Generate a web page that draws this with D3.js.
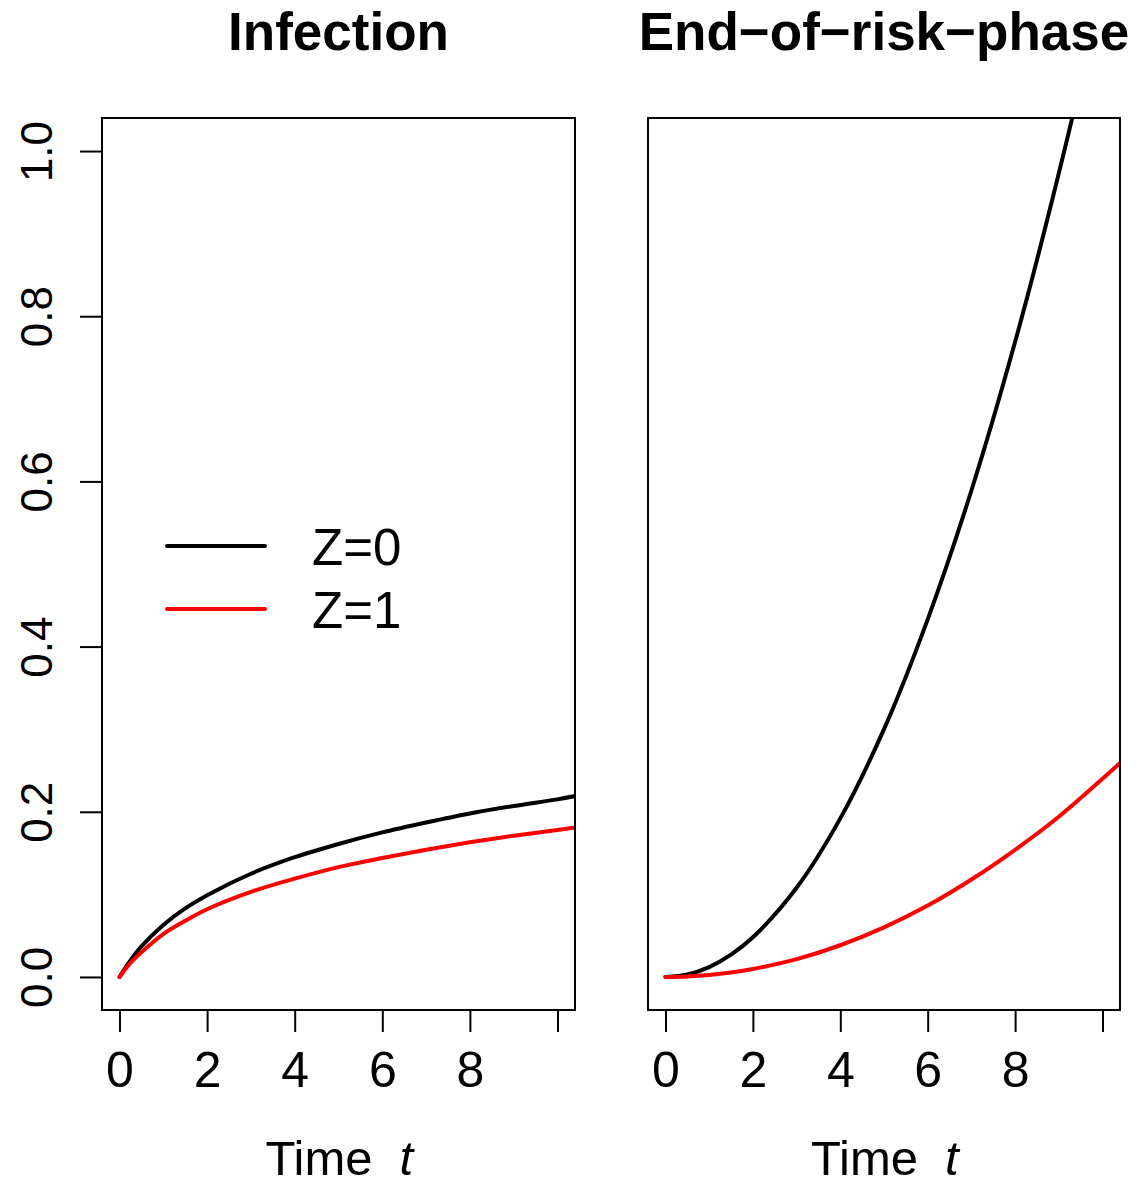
<!DOCTYPE html>
<html>
<head>
<meta charset="utf-8">
<script src="https://cdn.jsdelivr.net/npm/d3@7"></script>
<style>
	body { margin: 0; background: #fff; }
	svg { display: block; font-family: 'Liberation Sans', Arial, Helvetica, sans-serif; }
</style>
</head>
<body>
<svg width="1137" height="1186"></svg>
<script>
// values
let panelTitles = ['Infection', 'End\u2212of\u2212risk\u2212phase']
let legendLabels = ['Z=0', 'Z=1']
let seriesColors = ['#000000', '#ff0000']

let xTicks = [0, 2, 4, 6, 8, 10]
let yTicks = [0, 0.2, 0.4, 0.6, 0.8, 1.0]

let infectionT = [0, 0.25, 0.5, 1, 1.5, 2, 3, 4, 5, 6, 7, 8, 9, 10, 10.4]
let infectionZ0 = [0, 0.020, 0.037, 0.063, 0.083, 0.099, 0.125, 0.145, 0.161, 0.175, 0.187, 0.198, 0.207, 0.215, 0.219]
let infectionZ1 = [0, 0.017, 0.030, 0.052, 0.068, 0.082, 0.103, 0.119, 0.133, 0.144, 0.154, 0.163, 0.171, 0.178, 0.181]

let eorT = [0, 0.5, 1, 1.5, 2, 3, 4, 5, 6, 7, 8, 9, 10, 10.4]
let eorZ0 = [0, 0.003, 0.012, 0.027, 0.048, 0.108, 0.192, 0.300, 0.433, 0.589, 0.769, 0.973, 1.20, 1.30]
let eorZ1 = [0, 0.0006, 0.0024, 0.0054, 0.0096, 0.0216, 0.0384, 0.060, 0.0864, 0.118, 0.154, 0.194, 0.240, 0.259]

let config = {
	top: 118,
	bottom: 1010,
	panels: [
		{ left: 102, right: 575, yAxis: true, t: infectionT, series: [infectionZ0, infectionZ1] },
		{ left: 648, right: 1120, yAxis: false, t: eorT, series: [eorZ0, eorZ1] },
	],
}

let svg = d3.select('svg')

let yScale = d3.scaleLinear()
	.domain([-0.04, 1.04])
	.range([config.bottom, config.top])

function drawPanel(p, i) {
	let xScale = d3.scaleLinear()
		.domain([-0.4, 10.4])
		.range([p.left, p.right])

	let clipId = 'clip' + i
	svg.append('clipPath')
		.attr('id', clipId)
		.append('rect')
		.attr('x', p.left)
		.attr('y', config.top)
		.attr('width', p.right - p.left)
		.attr('height', config.bottom - config.top)

	let line = d3.line()
		.x(d => xScale(d[0]))
		.y(d => yScale(d[1]))
		.curve(d3.curveCatmullRom.alpha(0.5))

	let linesG = svg.append('g').attr('clip-path', `url(#${clipId})`)
	p.series.forEach((vals, k) => {
		linesG.append('path')
			.datum(p.t.map((t, j) => [t, vals[j]]))
			.attr('d', line)
			.attr('fill', 'none')
			.attr('stroke', seriesColors[k])
			.attr('stroke-width', 4)
			.attr('stroke-linejoin', 'round')
			.attr('stroke-linecap', 'round')
	})

	// box
	svg.append('rect')
		.attr('x', p.left)
		.attr('y', config.top)
		.attr('width', p.right - p.left)
		.attr('height', config.bottom - config.top)
		.attr('fill', 'none')
		.attr('stroke', '#000')
		.attr('stroke-width', 2)

	// bottom axis
	let bottomAxisG = svg.append('g')
		.attr('transform', `translate(0, ${config.bottom})`)
	bottomAxisG.call(d3.axisBottom(xScale)
		.tickValues(xTicks)
		.tickSize(22)
		.tickSizeOuter(0)
		.tickFormat(d => d === 10 ? '' : d))
	bottomAxisG.select('.domain').remove()
	bottomAxisG.selectAll('line').attr('stroke', '#000').attr('stroke-width', 2)
	bottomAxisG.selectAll('text')
		.attr('y', 77)
		.attr('dy', null)
		.attr('fill', '#000')
		.style('font-size', '50px')
		.style('font-family', "'Liberation Sans', Arial, sans-serif")

	if (p.yAxis) {
		let leftAxisG = svg.append('g')
			.attr('transform', `translate(${p.left}, 0)`)
		leftAxisG.call(d3.axisLeft(yScale)
			.tickValues(yTicks)
			.tickSize(22)
			.tickSizeOuter(0)
			.tickFormat(d3.format('.1f')))
		leftAxisG.select('.domain').remove()
		leftAxisG.selectAll('line').attr('stroke', '#000').attr('stroke-width', 2)
		leftAxisG.selectAll('text')
			.attr('x', null)
			.attr('dy', null)
			.attr('transform', 'translate(-50, 0) rotate(-90)')
			.attr('text-anchor', 'middle')
			.attr('fill', '#000')
			.style('font-size', '44px')
			.style('font-family', "'Liberation Sans', Arial, sans-serif")
	}

	let cx = (p.left + p.right) / 2
	svg.append('text')
		.attr('x', cx)
		.attr('y', 50)
		.attr('text-anchor', 'middle')
		.attr('font-weight', 'bold')
		.attr('font-size', 53)
		.text(panelTitles[i])

	svg.append('text')
		.attr('x', cx - 73)
		.attr('y', 1175)
		.attr('font-size', 49)
		.text('Time')
	svg.append('text')
		.attr('x', cx + 61)
		.attr('y', 1175)
		.attr('font-size', 49)
		.attr('font-style', 'italic')
		.text('t')
}

function drawLegend() {
	let rows = [546, 609]
	legendLabels.forEach((label, k) => {
		svg.append('line')
			.attr('x1', 167)
			.attr('x2', 265)
			.attr('y1', rows[k])
			.attr('y2', rows[k])
			.attr('stroke', seriesColors[k])
			.attr('stroke-width', 4)
			.attr('stroke-linecap', 'round')
		svg.append('text')
			.attr('x', 312)
			.attr('y', rows[k] + 19)
			.attr('font-size', 51)
			.text(label)
	})
}

config.panels.forEach(drawPanel)
drawLegend()
</script>
</body>
</html>
